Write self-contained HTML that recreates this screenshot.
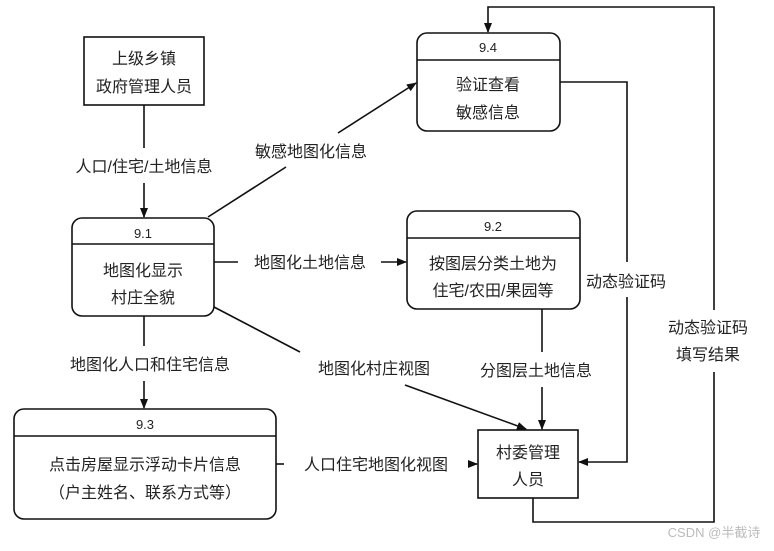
<!DOCTYPE html>
<html><head><meta charset="utf-8"><style>
html,body{margin:0;padding:0;background:#fff;}
svg text{font-family:"Liberation Sans","Noto Sans CJK SC",sans-serif;fill:#222;}
</style></head><body>
<svg width="774" height="546" viewBox="0 0 774 546" xmlns="http://www.w3.org/2000/svg">
<defs><marker id="a" markerWidth="10" markerHeight="10" refX="9" refY="5" orient="auto" markerUnits="userSpaceOnUse"><path d="M0,1 L10,5 L0,9 z" fill="#111"/></marker></defs>
<g stroke="#111" stroke-width="1.6" fill="none">
<rect x="84" y="37" width="120" height="68" fill="#fff"/>
<rect x="72" y="218" width="142" height="98" rx="10"/><line x1="72" y1="244" x2="214" y2="244"/>
<rect x="417" y="33" width="143" height="98" rx="10"/><line x1="417" y1="60" x2="560" y2="60"/>
<rect x="407" y="211" width="173" height="98" rx="10"/><line x1="407" y1="238" x2="580" y2="238"/>
<rect x="14" y="409" width="262" height="110" rx="10"/><line x1="14" y1="436" x2="276" y2="436"/>
<rect x="478" y="430" width="100" height="68"/>
<line x1="144" y1="105" x2="144" y2="148"/><line x1="144" y1="183" x2="144" y2="217" marker-end="url(#a)"/>
<line x1="208" y1="217" x2="286" y2="167"/><line x1="338" y1="133" x2="416" y2="83" marker-end="url(#a)"/>
<line x1="214" y1="262" x2="238" y2="262"/><line x1="381" y1="262" x2="406" y2="262" marker-end="url(#a)"/>
<line x1="214" y1="307" x2="300" y2="352"/><line x1="405" y1="385" x2="526" y2="429" marker-end="url(#a)"/>
<line x1="144" y1="316" x2="144" y2="346"/><line x1="144" y1="381" x2="144" y2="408" marker-end="url(#a)"/>
<line x1="542" y1="309" x2="542" y2="352"/><line x1="542" y1="387" x2="542" y2="429" marker-end="url(#a)"/>
<line x1="276" y1="464" x2="284" y2="464"/><line x1="470" y1="464" x2="477" y2="464" marker-end="url(#a)"/>
<polyline points="560,82 627,82 627,262"/><polyline points="627,297 627,462 579,462" marker-end="url(#a)"/>
<polyline points="533,498 533,522 714,522 714,372"/><polyline points="714,310 714,7 488,7 488,32" marker-end="url(#a)"/>
</g>
<g font-size="16" text-anchor="middle">
<text x="144" y="64">上级乡镇</text><text x="144" y="92">政府管理人员</text>
<text x="143" y="238" font-size="13">9.1</text><text x="143" y="276">地图化显示</text><text x="143" y="303">村庄全貌</text>
<text x="488" y="52" font-size="13">9.4</text><text x="488" y="90">验证查看</text><text x="488" y="118">敏感信息</text>
<text x="493" y="231" font-size="13">9.2</text><text x="493" y="269">按图层分类土地为</text><text x="493" y="296">住宅/农田/果园等</text>
<text x="145" y="429" font-size="13">9.3</text><text x="145" y="470">点击房屋显示浮动卡片信息</text><text x="145" y="498">（户主姓名、联系方式等）</text>
<text x="528" y="458">村委管理</text><text x="528" y="485">人员</text>
<text x="144" y="172">人口/住宅/土地信息</text>
<text x="311" y="157">敏感地图化信息</text>
<text x="310" y="268">地图化土地信息</text>
<text x="150" y="370">地图化人口和住宅信息</text>
<text x="374" y="374">地图化村庄视图</text>
<text x="536" y="376">分图层土地信息</text>
<text x="376" y="470">人口住宅地图化视图</text>
<text x="626" y="287">动态验证码</text>
<text x="708" y="333">动态验证码</text><text x="708" y="360">填写结果</text>
<text x="714" y="537" font-size="13" style="fill:#bbb">CSDN @半截诗</text>
</g>
</svg>
</body></html>
